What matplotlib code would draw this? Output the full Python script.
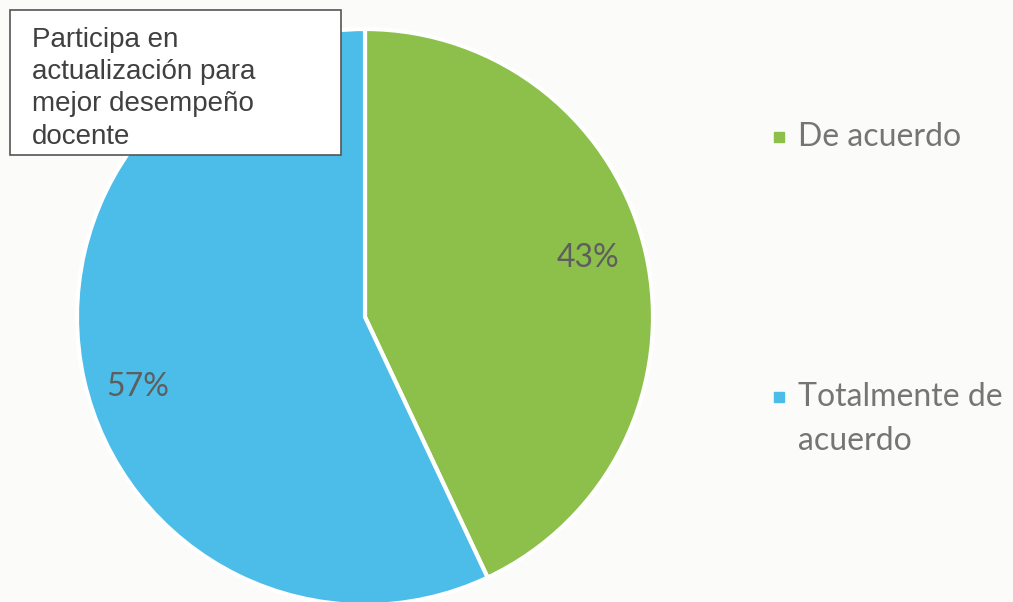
import matplotlib.pyplot as plt
from matplotlib.patches import Rectangle

labels = ['De acuerdo', 'Totalmente de\nacuerdo']
values = [43, 57]
colors = ['#8DC04A', '#4CBDE9']
title = 'Participa en\nactualización para\nmejor desempeño\ndocente'

W, H = 1013, 602
fig = plt.figure(figsize=(W / 100, H / 100), dpi=100, facecolor='#FBFBF9')
ax = fig.add_axes([0, 0, 1, 1])

# pie centre/radius in pixel units (y measured from the bottom)
wedges, _, pcts = ax.pie(
    values, colors=colors, startangle=90, counterclock=False,
    center=(365, H - 317), radius=288, frame=True,
    autopct='%1.0f%%', pctdistance=0.79,
    wedgeprops=dict(edgecolor='white', linewidth=3),
    textprops=dict(color='#5E5E5E', fontsize=23, family='Lato'),
)
# nudge the percentage labels to where the original puts them
pcts[0].set_position((588, H - 258))
pcts[1].set_position((138, H - 387))

ax.set_xlim(0, W)
ax.set_ylim(0, H)
ax.set_aspect('equal')
ax.axis('off')

# title box
ax.add_patch(Rectangle((10, H - 155), 331, 145, facecolor='white',
                       edgecolor='#555555', linewidth=1.2, zorder=5))
ax.text(32, H - 27, title, ha='left', va='top', fontsize=20,
        family='Liberation Sans', color='#404040', linespacing=1.31, zorder=6)

# legend drawn by hand to keep the wide gap between entries
ax.plot([779], [H - 137], marker='s', markersize=6.5, color=colors[0], linestyle='none')
ax.text(798, H - 137, labels[0], ha='left', va='center',
        fontsize=23, family='Lato', color='#757575')
ax.plot([779], [H - 397], marker='s', markersize=6.5, color=colors[1], linestyle='none')
ax.text(798, H - 419, labels[1], ha='left', va='center',
        fontsize=23, family='Lato', color='#757575', linespacing=1.55)

fig.savefig('out.png', dpi=100, facecolor=fig.get_facecolor())
